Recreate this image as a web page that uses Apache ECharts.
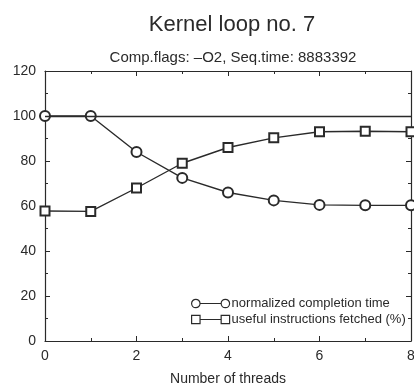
<!DOCTYPE html>
<html><head><meta charset="utf-8">
<script src="https://cdn.jsdelivr.net/npm/echarts@6/dist/echarts.min.js"></script>
<style>html,body{margin:0;padding:0;background:#fff}#c{width:414px;height:383px}</style>
</head><body><div id="c"></div>
<script>
const threads = [0, 1, 2, 3, 4, 5, 6, 7, 8];
const completionTime = [100, 100, 84, 72.5, 66, 62.5, 60.5, 60.3, 60.3];
const usefulFetched = [57.8, 57.6, 68, 79, 86, 90.3, 93, 93.2, 93];
const xTicks = [0, 2, 4, 6, 8];
const yTicks = [0, 20, 40, 60, 80, 100, 120];
const seriesNames = ['normalized completion time', 'useful instructions fetched (%)'];
const baseline = 100;

const ink = '#2a2a2a';
const font = 'Liberation Sans, Arial, sans-serif';
const chart = echarts.init(document.getElementById('c'));

const circleIcon = 'path://M0,4 A4,4 0 1,0 8,4 A4,4 0 1,0 0,4 M8,4 L28,4 M28,4 A4,4 0 1,0 36,4 A4,4 0 1,0 28,4';
const squareIcon = 'path://M0,0 L8,0 L8,8 L0,8 Z M8,4 L28,4 M28,0 L36,0 L36,8 L28,8 Z';

function axis(extra) {
  return Object.assign({
    type: 'value',
    axisLine: { show: true, onZero: false, lineStyle: { color: ink, width: 1.2 } },
    axisTick: { show: true, inside: true, length: 5, lineStyle: { color: ink } },
    minorTick: { show: true, splitNumber: 2, length: 3, lineStyle: { color: ink } },
    splitLine: { show: false },
    minorSplitLine: { show: false }
  }, extra);
}

chart.setOption({
  animation: false,
  backgroundColor: '#fff',
  title: [
    { text: 'Kernel loop no. 7', left: 227, top: 9, textAlign: 'center',
      textStyle: { fontFamily: font, fontSize: 22, fontWeight: 'normal', color: ink } },
    { text: 'Comp.flags: \u2013O2, Seq.time: 8883392', left: 228, top: 45, textAlign: 'center',
      textStyle: { fontFamily: font, fontSize: 15, fontWeight: 'normal', color: ink } }
  ],
  grid: { left: 45, right: 3, top: 71, bottom: 42, containLabel: false, outerBoundsMode: 'none' },
  legend: {
    orient: 'vertical', left: 186, top: 292, itemWidth: 38, itemHeight: 9, itemGap: 3,
    selectedMode: false,
    textStyle: { fontFamily: font, fontSize: 13, color: ink, padding: [0, 0, 0, -3] },
    itemStyle: { color: 'transparent', borderColor: ink, borderWidth: 1.2 },
    lineStyle: { color: 'transparent', width: 0 },
    data: [
      { name: seriesNames[0], icon: circleIcon },
      { name: seriesNames[1], icon: squareIcon }
    ]
  },
  xAxis: [
    axis({
      min: xTicks[0], max: xTicks[xTicks.length - 1], interval: 2, position: 'bottom',
      name: 'Number of threads', nameLocation: 'middle', nameGap: 31,
      nameTextStyle: { fontFamily: font, fontSize: 14, color: ink },
      axisLabel: { fontFamily: font, fontSize: 14, color: ink, margin: 8 }
    }),
    axis({
      min: xTicks[0], max: xTicks[xTicks.length - 1], interval: 2, position: 'top',
      axisLabel: { show: false }
    })
  ],
  yAxis: [
    axis({
      min: yTicks[0], max: yTicks[yTicks.length - 1], interval: 20, position: 'left',
      axisLabel: { fontFamily: font, fontSize: 14, color: ink, margin: 9 }
    }),
    axis({
      min: yTicks[0], max: yTicks[yTicks.length - 1], interval: 20, position: 'right',
      axisLabel: { show: false }
    })
  ],
  series: [
    {
      name: seriesNames[0], type: 'line',
      data: threads.map((t, i) => [t, completionTime[i]]),
      symbol: 'emptyCircle', symbolSize: 10,
      lineStyle: { color: ink, width: 1.4 },
      itemStyle: { color: ink, borderWidth: 1.3 },
      markLine: {
        silent: true, symbol: ['none', 'none'], label: { show: false },
        lineStyle: { color: ink, width: 1.3, type: 'solid' },
        data: [{ yAxis: baseline }]
      }
    },
    {
      name: seriesNames[1], type: 'line',
      data: threads.map((t, i) => [t, usefulFetched[i]]),
      symbol: 'emptyRect', symbolSize: 9,
      lineStyle: { color: ink, width: 1.4 },
      itemStyle: { color: ink, borderWidth: 1.3 }
    }
  ]
});
</script></body></html>
